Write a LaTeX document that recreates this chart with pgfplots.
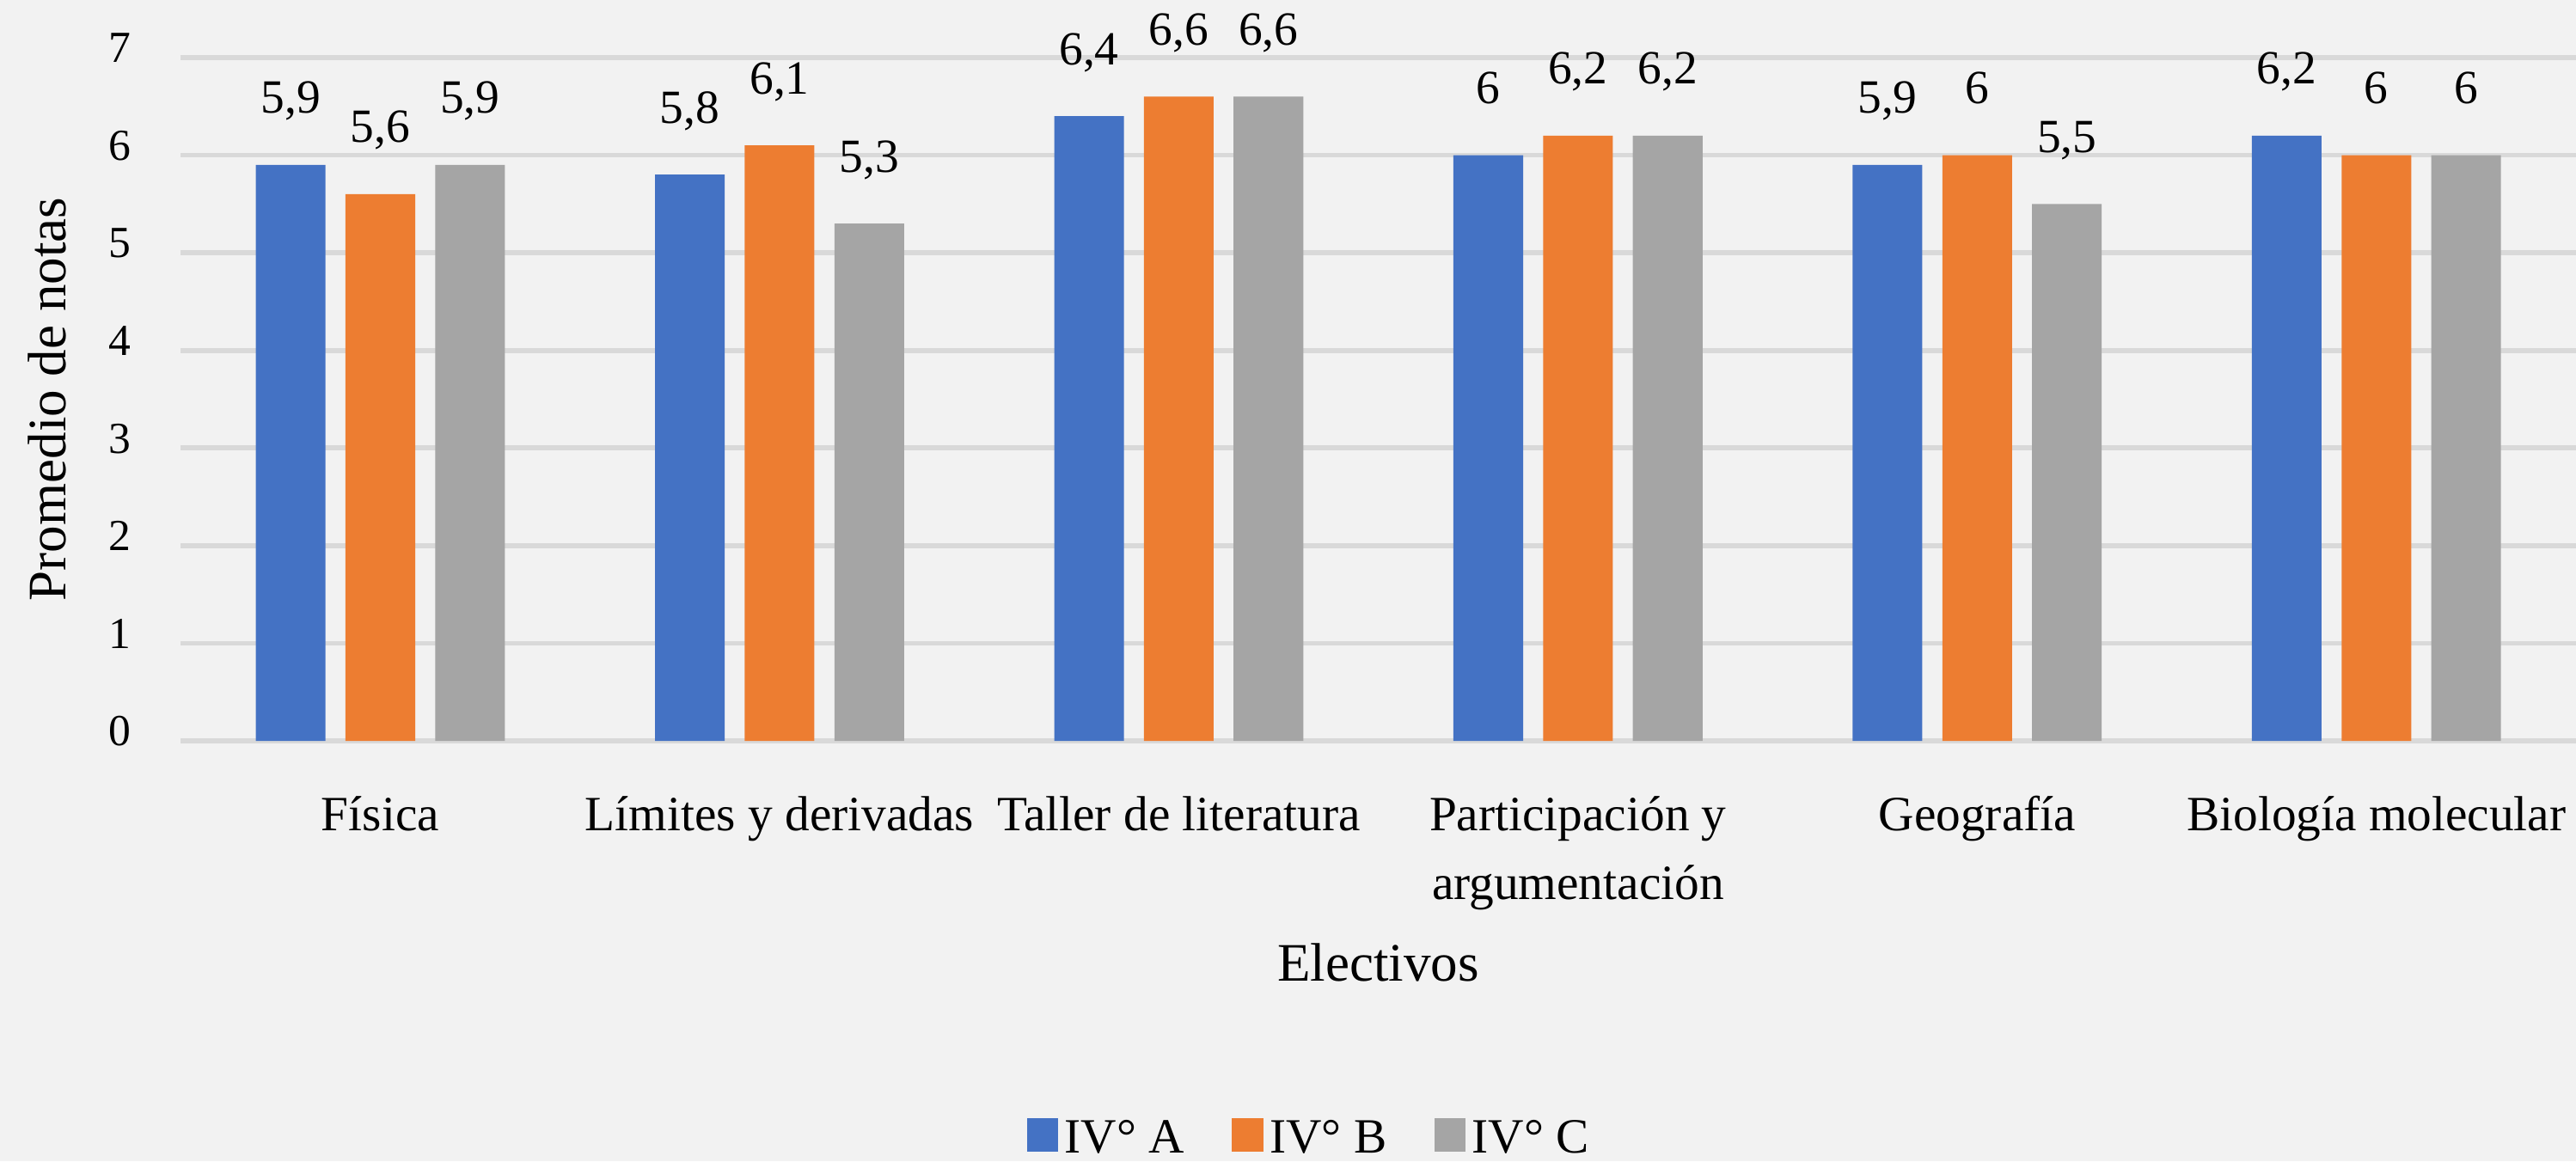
\documentclass[border=0pt]{standalone}
\usepackage{pgfplots}
\pgfplotsset{compat=1.18}
\usepackage{fontspec}
\setmainfont{Liberation Serif}
\definecolor{cA}{HTML}{4472C4}
\definecolor{cB}{HTML}{ED7D31}
\definecolor{cC}{HTML}{A5A5A5}
\definecolor{bgc}{HTML}{F2F2F2}
\definecolor{gridc}{HTML}{D9D9D9}
\begin{document}
\begin{tikzpicture}
\fill[bgc] (-55pt,-128pt) rectangle (729pt,225.5pt);
\useasboundingbox (-55pt,-128pt) rectangle (729pt,225.5pt);
\begin{axis}[
  at={(0pt,0pt)}, anchor=south west,
  scale only axis, width=729pt, height=208pt,
  ybar=6.1pt, bar width=21.2pt,
  xmin=-0.5, xmax=5.5, ymin=0, ymax=7,
  enlargelimits=false, clip=false,
  xtick={0,...,5},
  xticklabels={Física, Límites y derivadas, Taller de literatura, {\begin{tabular}[t]{@{}c@{}}Participación y\\argumentación\end{tabular}}, Geografía, Biología molecular},
  ytick={0,...,7},
  ymajorgrids, major grid style={draw=gridc, line width=1.5pt},
  axis line style={draw=none}, tick style={draw=none},
  /pgf/number format/use comma,
  /pgf/number format/fixed,
  /pgf/number format/precision=1,
  /pgf/number format/assume math mode=true,
  xticklabel style={font=\fontsize{15}{21}\selectfont, anchor=base, yshift=-23pt, text=black},
  yticklabel style={font=\fontsize{13.5}{16}\selectfont, anchor=center, xshift=-18.6pt, yshift=2.9pt, text=black},
  every axis y label/.style={at={(axis description cs:-0.0480,0.5)}, rotate=90, anchor=base, font=\fontsize{16.5}{20}\selectfont},
  every axis x label/.style={at={(axis description cs:0.5,0)}, anchor=base, yshift=-73pt, font=\fontsize{16.5}{20}\selectfont},
  ylabel={Promedio de notas},
  xlabel={Electivos},
  nodes near coords,
  every node near coord/.append style={anchor=base, inner sep=0pt, yshift=15.7pt, font=\fontsize{14.5}{17}\selectfont, text=black},
  legend style={at={(axis description cs:0.472,-0.583)}, anchor=center, draw=none, fill=none, legend columns=3, font=\fontsize{15}{18}\selectfont, /tikz/every even column/.append style={column sep=12.5pt}},
  sq/.style={legend image code/.code={\fill[##1] (0pt,-3.7pt) rectangle (9.5pt,6.3pt);}},
]
\addplot[fill=cA, draw=none, sq] coordinates {(0,5.9) (1,5.8) (2,6.4) (3,6.0) (4,5.9) (5,6.2)};
\addlegendentry{IV° A}
\addplot[fill=cB, draw=none, sq] coordinates {(0,5.6) (1,6.1) (2,6.6) (3,6.2) (4,6.0) (5,6.0)};
\addlegendentry{IV° B}
\addplot[fill=cC, draw=none, sq] coordinates {(0,5.9) (1,5.3) (2,6.6) (3,6.2) (4,5.5) (5,6.0)};
\addlegendentry{IV° C}
\end{axis}
\end{tikzpicture}
\end{document}
